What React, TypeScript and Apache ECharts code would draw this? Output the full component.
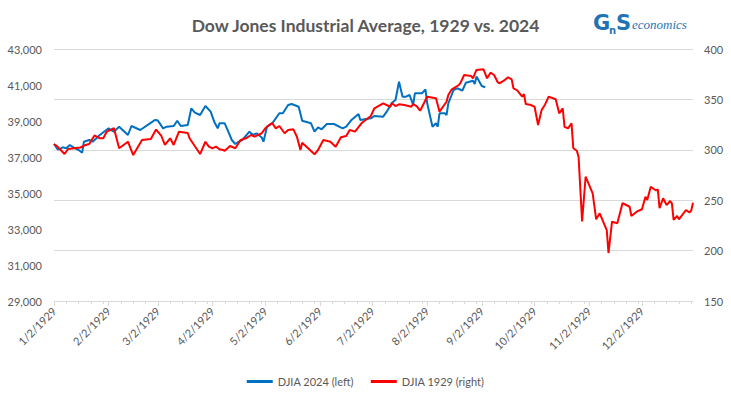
import React, { useEffect, useRef } from "react";
import * as echarts from "echarts";

const TITLE = "Dow Jones Industrial Average, 1929 vs. 2024";
const SERIES_NAMES = ["DJIA 2024 (left)", "DJIA 1929 (right)"];
const YEAR = 1929;
const FIRST_DAY = [0, 2]; // Jan 2
const LAST_DAY = [11, 31]; // Dec 31

// DJIA 2024 (left axis), aligned to 1929 calendar dates
const djia2024Dates = [
  "1/2", "1/4", "1/5", "1/7", "1/9", "1/11", "1/13", "1/16", "1/18", "1/19", "1/22", "1/24", "1/28", "1/31",
  "2/2", "2/5", "2/8", "2/13", "2/15", "2/20", "2/27", "2/28",
  "3/1", "3/2", "3/5", "3/7", "3/11", "3/13", "3/15", "3/19", "3/21", "3/23", "3/26", "3/29",
  "4/1", "4/3", "4/5", "4/6", "4/9", "4/11", "4/13", "4/15", "4/17", "4/19", "4/23", "4/25", "4/27", "4/30",
  "5/1", "5/3", "5/6", "5/10", "5/12", "5/15", "5/17", "5/21", "5/23", "5/28", "5/30",
  "6/1", "6/3", "6/6", "6/10", "6/15", "6/17", "6/20", "6/24", "6/25",
  "7/1", "7/3", "7/8", "7/10", "7/13", "7/15", "7/17", "7/19", "7/21", "7/23", "7/25", "7/26", "7/30",
  "8/1", "8/2", "8/5", "8/7", "8/8", "8/9", "8/12", "8/13", "8/14", "8/17", "8/19", "8/22", "8/24", "8/28", "8/29", "8/30",
  "9/2", "9/4",
];
const djia2024Values = [
  37722, 37428, 37428, 37539, 37483, 37667, 37539, 37389, 37239, 37850, 37944, 37850, 38222, 38444,
  38594, 38406, 38683, 38222, 38722, 38500, 38961, 39039,
  39056, 39017, 38594, 38683, 38722, 39017, 38722, 38778, 39706, 39461, 39333, 39833,
  39517, 38961, 38594, 38872, 38872, 38406, 37944, 37722, 37850, 37944, 38406, 38222, 38317, 38083,
  37850, 38683, 38872, 39428, 39428, 39889, 39944, 39794, 39017, 38872, 38406,
  38650, 38539, 38833, 38833, 38594, 38683, 39056, 39389, 39056,
  39150, 39278, 39239, 39517, 40017, 40167, 41183, 40350, 40350, 40444, 39889, 40539, 40539,
  40761, 39983, 38683, 38872, 38683, 39428, 39428, 39333, 39983, 40722, 40817, 40694, 41128, 41239, 41056, 41472,
  40944, 40872,
];

// DJIA 1929 (right axis)
const djia1929Dates = [
  "1/2", "1/4", "1/8", "1/10", "1/17", "1/20", "1/22", "1/25", "1/28", "1/30",
  "2/1", "2/3", "2/5", "2/8", "2/13", "2/16", "2/21", "2/26",
  "3/1", "3/4", "3/6", "3/9", "3/11", "3/14", "3/19", "3/20", "3/26", "3/29", "3/31",
  "4/2", "4/4", "4/6", "4/8", "4/9", "4/12", "4/15", "4/18", "4/21", "4/24", "4/26", "4/30",
  "5/2", "5/5", "5/6", "5/8", "5/10", "5/13", "5/15", "5/18", "5/20", "5/22", "5/23", "5/30",
  "6/1", "6/4", "6/8", "6/11", "6/14", "6/17", "6/19", "6/22", "6/26",
  "7/1", "7/3", "7/8", "7/12", "7/13", "7/15", "7/17", "7/20", "7/24", "7/25", "7/27", "7/29",
  "8/2", "8/7", "8/9", "8/13", "8/14", "8/16", "8/20", "8/21", "8/23", "8/27", "8/28", "8/30",
  "9/3", "9/5", "9/7", "9/9", "9/11", "9/12", "9/15", "9/17", "9/19", "9/20", "9/22", "9/25", "9/26", "9/27", "9/30",
  "10/2", "10/4", "10/6", "10/8", "10/10", "10/14", "10/16", "10/18", "10/19", "10/21", "10/23", "10/24", "10/26", "10/27", "10/29", "10/31",
  "11/4", "11/6", "11/8", "11/12", "11/13", "11/15", "11/18", "11/21", "11/25", "11/26", "11/29",
  "12/2", "12/4", "12/5", "12/7", "12/10", "12/11", "12/12", "12/14", "12/16", "12/18", "12/19", "12/20", "12/22", "12/23", "12/27", "12/29", "12/30", "12/31",
];
const djia1929Values = [
  305.7, 303.1, 295.8, 300.8, 302.3, 304.8, 305.7, 314.2, 311.4, 311.4,
  318.1, 319.6, 321.6, 301.5, 308.0, 294.8, 309.7, 310.7,
  320.1, 313.7, 304.8, 311.4, 304.8, 318.0, 316.7, 311.4, 295.8, 308.0, 303.1,
  301.5, 303.1, 300.5, 299.8, 299.1, 303.8, 301.5, 309.7, 311.4, 314.7, 313.0, 316.4,
  321.3, 325.6, 326.3, 321.3, 323.6, 316.4, 319.6, 320.3, 313.0, 299.8, 307.0, 295.5,
  299.8, 309.7, 308.0, 303.1, 312.4, 313.7, 319.6, 318.0, 326.9,
  333.5, 341.2, 346.1, 342.7, 346.1, 343.4, 345.1, 344.4, 342.7, 345.4, 343.4, 338.8,
  352.7, 351.1, 337.8, 347.7, 354.4, 360.0, 364.3, 366.6, 374.2, 373.2, 370.9, 379.2,
  379.8, 370.9, 376.5, 374.2, 367.2, 366.0, 369.2, 371.9, 369.9, 361.0, 359.3, 352.7, 355.3, 345.4, 344.4,
  342.7, 324.6, 339.5, 345.0, 352.7, 350.1, 336.2, 341.2, 322.9, 321.3, 326.3, 301.5, 299.1, 293.1, 228.9, 273.3,
  256.8, 231.0, 237.0, 220.4, 197.6, 228.7, 227.1, 247.2, 243.5, 234.3, 238.6,
  241.0, 253.5, 250.2, 263.4, 259.6, 260.8, 242.0, 251.9, 245.2, 249.2, 246.9, 230.4, 234.3, 231.0, 240.3, 237.8, 239.8, 247.5,
];

const LEFT_AXIS = { min: 29000, max: 43000, labelStep: 2000 };
const RIGHT_AXIS = { min: 150, max: 400, step: 50 };
const MAJOR_TICK_DAY = 2;
const MINOR_TICK_DAYS = [9, 16, 23, 30];

const FONT = 'Lato, "Noto Sans", sans-serif';
const TEXT_COLOR = "#595959";
const GRID_COLOR = "#d9d9d9";
const BLUE = "#0070c0";
const RED = "#ff0000";
const LOGO_BLUE = "#1f74b4";

function buildDays(): string[] {
  const out: string[] = [];
  const d = new Date(Date.UTC(YEAR, FIRST_DAY[0], FIRST_DAY[1]));
  const end = new Date(Date.UTC(YEAR, LAST_DAY[0], LAST_DAY[1]));
  while (d.getTime() <= end.getTime()) {
    out.push(`${d.getUTCMonth() + 1}/${d.getUTCDate()}/${YEAR}`);
    d.setUTCDate(d.getUTCDate() + 1);
  }
  return out;
}

const dayOf = (label: string) => Number(String(label).split("/")[1]);

export default function App() {
  const ref = useRef<HTMLDivElement>(null);

  useEffect(() => {
    if (!ref.current) return;
    const chart = echarts.init(ref.current, undefined, { renderer: "svg" });
    const days = buildDays();
    const toPoints = (dates: string[], values: number[]) =>
      dates.map((md, i) => [days.indexOf(`${md}/${YEAR}`), values[i]]);

    chart.setOption({
      animation: false,
      backgroundColor: "#ffffff",
      title: {
        text: TITLE,
        left: "center",
        top: 11,
        textStyle: { fontFamily: FONT, fontSize: 17.5, fontWeight: "bold", color: TEXT_COLOR },
      },
      graphic: [
        {
          type: "group",
          left: 593,
          top: 12,
          children: [
            { type: "text", x: 0, y: 0, style: { text: "G", fontFamily: '"DejaVu Sans", sans-serif', fontWeight: "bold", fontSize: 21, fill: LOGO_BLUE } },
            { type: "text", x: 16, y: 13, style: { text: "n", fontFamily: '"DejaVu Sans", sans-serif', fontWeight: "bold", fontSize: 10, fill: LOGO_BLUE } },
            { type: "text", x: 23, y: 0, style: { text: "S", fontFamily: '"DejaVu Sans", sans-serif', fontWeight: "bold", fontSize: 21, fill: LOGO_BLUE } },
            { type: "text", x: 39, y: 6, style: { text: "economics", fontFamily: '"Liberation Serif", serif', fontStyle: "italic", fontSize: 13, fill: LOGO_BLUE } },
          ],
        },
      ],
      legend: {
        data: SERIES_NAMES,
        left: "center",
        top: 371,
        icon: "rect",
        itemWidth: 26,
        itemHeight: 3,
        itemGap: 17,
        textStyle: { fontFamily: FONT, fontSize: 11, color: TEXT_COLOR },
      },
      grid: { left: 54, right: 38, top: 49, bottom: 95, containLabel: false },
      xAxis: [
        {
          type: "category",
          data: days,
          boundaryGap: false,
          axisLine: { lineStyle: { color: GRID_COLOR, width: 1 } },
          axisTick: {
            interval: (_i: number, v: string) => dayOf(v) === MAJOR_TICK_DAY,
            length: 5,
            lineStyle: { color: GRID_COLOR },
          },
          axisLabel: {
            interval: (_i: number, v: string) => dayOf(v) === MAJOR_TICK_DAY,
            rotate: 45,
            margin: 8,
            color: TEXT_COLOR,
            fontFamily: FONT,
            fontSize: 11,
          },
          splitLine: { show: false },
        },
        {
          type: "category",
          data: days,
          boundaryGap: false,
          position: "bottom",
          axisLine: { show: false },
          axisTick: {
            interval: (_i: number, v: string) => MINOR_TICK_DAYS.includes(dayOf(v)),
            length: 3,
            lineStyle: { color: GRID_COLOR },
          },
          axisLabel: { show: false },
          splitLine: { show: false },
        },
      ],
      yAxis: [
        {
          type: "value",
          position: "left",
          min: LEFT_AXIS.min,
          max: LEFT_AXIS.max,
          interval: LEFT_AXIS.labelStep / 2,
          axisLine: { show: false },
          axisTick: { show: false },
          splitLine: { show: false },
          axisLabel: {
            margin: 12,
            color: TEXT_COLOR,
            fontFamily: FONT,
            fontSize: 11,
            formatter: (v: number) =>
              (v - LEFT_AXIS.min) % LEFT_AXIS.labelStep === 0 ? v.toLocaleString("en-US") : "",
          },
        },
        {
          type: "value",
          position: "right",
          min: RIGHT_AXIS.min,
          max: RIGHT_AXIS.max,
          interval: RIGHT_AXIS.step,
          axisLine: { show: false },
          axisTick: { show: false },
          splitLine: { lineStyle: { color: GRID_COLOR, width: 1 } },
          axisLabel: { margin: 11, color: TEXT_COLOR, fontFamily: FONT, fontSize: 11 },
        },
      ],
      series: [
        {
          name: SERIES_NAMES[0],
          type: "line",
          xAxisIndex: 0,
          yAxisIndex: 0,
          data: toPoints(djia2024Dates, djia2024Values),
          symbol: "none",
          lineStyle: { color: BLUE, width: 2 },
          itemStyle: { color: BLUE },
        },
        {
          name: SERIES_NAMES[1],
          type: "line",
          xAxisIndex: 0,
          yAxisIndex: 1,
          data: toPoints(djia1929Dates, djia1929Values),
          symbol: "none",
          lineStyle: { color: RED, width: 2 },
          itemStyle: { color: RED },
        },
      ],
    });
    return () => chart.dispose();
  }, []);

  return (
    <div
      ref={ref}
      style={{ position: "fixed", left: 0, top: 0, width: 731, height: 396, background: "#fff" }}
    />
  );
}
